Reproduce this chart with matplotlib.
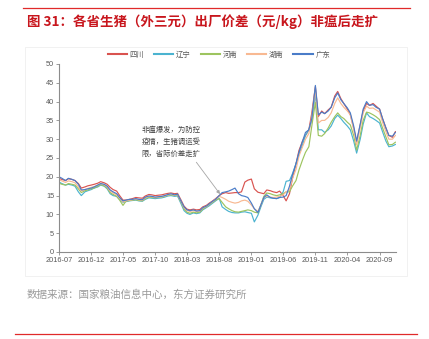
import matplotlib
matplotlib.use("Agg")
import matplotlib.pyplot as plt
import pandas as pd
from matplotlib.patches import Rectangle
from matplotlib.lines import Line2D

plt.rcParams['font.family'] = ['Noto Sans CJK SC', 'DejaVu Sans']

title = "图 31：各省生猪（外三元）出厂价差（元/kg）非瘟后走扩"
source = "数据来源：国家粮油信息中心，东方证券研究所"
note = "非瘟爆发，为防控\n疫情，生猪调运受\n限，省际价差走扩"

series_names = ["四川", "辽宁", "河南", "湖南", "广东"]
series_colors = ["#D9534F", "#4BB3D0", "#9DC45F", "#F8B992", "#4A7CC8"]

# semi-monthly observation dates, 2016-07-01 .. 2020-11-16
dates = pd.date_range("2016-07-01", "2020-11-16", freq="SMS")

sichuan = [
    19.6, 19.3, 19.0, 19.5, 19.3, 19.0, 18.2, 17.0, 17.3, 17.6, 17.8, 18.0, 18.3, 18.7, 18.4, 18.0, 17.2, 16.6, 16.2, 15.0,
    13.8, 13.8, 14.0, 14.2, 14.5, 14.4, 14.3, 14.9, 15.3, 15.2, 15.0, 15.1, 15.2, 15.4, 15.6, 15.7, 15.5, 15.6, 13.8, 12.2,
    11.4, 11.2, 11.4, 11.2, 11.3, 12.0, 12.4, 13.0, 13.6, 14.2, 15.0, 15.5, 15.8, 15.6, 15.7, 15.8, 15.8, 16.0, 18.6, 19.1,
    19.4, 16.8, 15.9, 15.7, 15.5, 16.5, 16.3, 16.0, 15.8, 16.2, 15.0, 13.6, 15.5, 19.5, 23.5, 27.0, 29.5, 31.0, 32.5, 37.0,
    44.0, 36.0, 37.5, 36.8, 37.8, 38.5, 41.5, 42.7, 40.8, 39.5, 38.0, 36.5, 33.0, 29.2, 33.8, 37.5, 39.5, 39.0, 39.5, 38.8,
    38.0, 35.5, 33.0, 31.0, 30.5, 32.0,
]
liaoning = [
    18.6, 18.2, 17.8, 18.0, 17.8, 17.5, 16.0, 15.0, 16.0, 16.3, 16.6, 17.0, 17.3, 17.8, 17.5, 16.8, 15.5, 15.0, 14.8, 14.0,
    13.2, 13.4, 13.6, 13.7, 13.8, 13.6, 13.5, 14.0, 14.4, 14.3, 14.2, 14.3, 14.4, 14.6, 14.9, 15.0, 14.8, 14.9, 12.8, 11.0,
    10.3, 10.0, 10.4, 10.2, 10.4, 11.2, 11.8, 12.3, 13.0, 13.6, 14.3, 12.0, 11.3, 10.8, 10.5, 10.4, 10.4, 10.6, 10.7, 10.5,
    10.3, 8.0, 9.8, 12.0, 14.0, 14.6, 14.4, 14.3, 14.2, 14.5, 16.0, 18.8, 19.0, 20.8, 23.5, 26.0, 28.5, 31.0, 32.5, 35.0,
    42.0, 32.5, 32.5, 31.8, 32.5, 33.5, 35.5, 36.4, 35.5, 34.5, 33.5, 32.5, 29.5, 26.3, 30.0, 34.0, 37.0, 36.0, 35.5, 35.0,
    34.3, 32.0, 29.5, 28.0, 28.2, 28.6,
]
henan = [
    18.3, 18.0, 17.8, 18.2, 18.0, 17.8, 16.8, 15.8, 16.3, 16.5, 16.8, 17.0, 17.5, 17.9, 17.6, 17.0, 15.8, 15.3, 14.8, 13.8,
    12.4, 13.5, 13.7, 13.8, 13.9, 13.7, 13.6, 14.2, 14.6, 14.5, 14.4, 14.5, 14.6, 14.8, 15.1, 15.2, 15.0, 15.1, 13.2, 11.4,
    10.6, 10.3, 10.6, 10.4, 10.6, 11.4, 12.0, 12.6, 13.2, 13.8, 14.2, 13.2, 12.0, 11.5, 11.0, 10.7, 10.6, 10.8, 11.0, 11.2,
    11.0, 10.6, 10.4, 12.5, 14.8, 15.7, 15.5, 15.2, 15.0, 15.2, 15.5, 16.0, 16.0, 17.5, 19.0, 21.8, 24.5, 26.5, 28.0, 33.5,
    39.8, 31.0, 30.8, 31.5, 33.0, 34.5, 36.0, 37.0, 36.0, 35.5, 34.5, 33.8, 31.0, 27.1, 31.0, 35.0, 37.2, 37.0, 36.5, 36.0,
    35.2, 33.0, 30.6, 28.5, 28.6, 29.2,
]
hunan = [
    19.2, 18.9, 18.5, 18.9, 18.7, 18.4, 17.3, 16.2, 16.6, 16.9, 17.2, 17.4, 17.8, 18.2, 17.9, 17.3, 16.2, 15.7, 15.2, 14.3,
    13.3, 13.6, 13.8, 13.9, 14.1, 13.9, 13.8, 14.4, 14.8, 14.7, 14.5, 14.6, 14.7, 14.9, 15.2, 15.4, 15.1, 15.3, 13.4, 11.8,
    11.0, 10.8, 11.0, 10.8, 10.9, 11.7, 12.1, 12.7, 13.4, 14.0, 14.8, 14.5, 14.0, 13.5, 13.2, 13.0, 13.2, 13.6, 13.8, 13.5,
    12.5, 11.5, 10.8, 12.5, 14.5, 14.8, 14.6, 14.5, 14.6, 14.8, 15.2, 16.0, 16.5, 19.5, 22.0, 25.5, 28.0, 30.0, 31.5, 36.0,
    43.0, 34.3, 35.0, 35.0, 35.8, 37.0, 39.5, 41.0, 39.5, 38.5, 37.5, 36.5, 32.5, 28.5, 33.0, 37.0, 38.8, 38.2, 38.3, 37.8,
    37.2, 34.5, 32.0, 30.0, 30.0, 31.0,
]
guangdong = [
    20.0, 19.6, 19.0, 19.6, 19.3, 19.0, 18.0, 16.5, 16.6, 16.8, 17.0, 17.3, 17.8, 18.2, 18.0, 17.5, 16.5, 16.0, 15.5, 14.5,
    13.6, 13.8, 14.0, 14.0, 14.2, 14.0, 13.9, 14.6, 14.9, 14.8, 14.6, 14.7, 14.8, 15.0, 15.3, 15.5, 15.2, 15.4, 13.5, 12.0,
    11.2, 11.0, 11.2, 10.9, 11.0, 11.8, 12.2, 12.8, 13.5, 14.0, 15.0, 15.8, 16.0, 16.2, 16.6, 17.0, 15.5, 15.0, 14.8, 14.5,
    13.0, 11.5, 10.5, 12.5, 14.5, 15.2, 14.5, 14.3, 14.2, 14.5, 14.6, 15.0, 17.5, 20.5, 23.5, 26.5, 29.5, 31.8, 32.5, 35.5,
    44.3, 36.5, 37.2, 36.8, 37.5, 38.5, 41.0, 42.3, 40.5, 39.5, 38.3, 37.0, 33.5, 29.5, 34.0, 38.0, 40.0, 39.0, 39.2, 38.5,
    38.0, 35.5, 33.0, 31.0, 30.8, 31.8,
]

y_ticks = [0, 5, 10, 15, 20, 25, 30, 35, 40, 45, 50]
x_tick_labels = ["2016-07", "2016-12", "2017-05", "2017-10", "2018-03", "2018-08",
                 "2019-01", "2019-06", "2019-11", "2020-04", "2020-09"]

W, H = 429, 339
fig = plt.figure(figsize=(W / 100, H / 100), dpi=100)
fig.patch.set_facecolor("white")

def fx(px):
    return px / W

def fy(py):
    return 1 - py / H

# decorative lines
fig.add_artist(Line2D([fx(23), fx(410)], [fy(7.5), fy(7.5)], color="#E02A2A", lw=0.9))
fig.add_artist(Line2D([fx(15), fx(417)], [fy(334), fy(334)], color="#E02A2A", lw=0.9))
# faint chart frame
fig.add_artist(Rectangle((fx(25), fy(276)), fx(407) - fx(25), fy(47) - fy(276),
                         fill=False, edgecolor="#EFEFEF", lw=0.6))

fig.text(fx(27), fy(22), title, color="#C8161D", fontsize=9.7, fontweight="bold",
         va="center", ha="left")
fig.text(fx(27), fy(295), source, color="#9A9A9A", fontsize=7.6, va="center", ha="left")

ax = fig.add_axes([fx(59), fy(252), fx(396) - fx(59), fy(64) - fy(252)])
all_series = [sichuan, liaoning, henan, hunan, guangdong]
for name, vals, col in zip(series_names, all_series, series_colors):
    ax.plot(dates, vals, color=col, lw=0.85, label=name)

ax.set_ylim(0, 50)
ax.set_yticks(y_ticks)
ax.set_yticklabels([str(v) for v in y_ticks])
ax.set_xlim(pd.Timestamp("2016-07-01"), pd.Timestamp("2020-11-18"))
tick_dates = [pd.Timestamp(s + "-01") for s in x_tick_labels]
ax.set_xticks(tick_dates)
ax.set_xticklabels(x_tick_labels)

for s in ["top", "right"]:
    ax.spines[s].set_visible(False)
for s in ["left", "bottom"]:
    ax.spines[s].set_color("#8C8C8C")
    ax.spines[s].set_linewidth(0.8)
ax.tick_params(axis="both", length=2, width=0.6, color="#8C8C8C", labelsize=5.3,
               labelcolor="#595959", pad=1.5)
for lbl in ax.get_xticklabels() + ax.get_yticklabels():
    lbl.set_family(["Liberation Sans", "DejaVu Sans"])

ax.annotate(note, xy=(pd.Timestamp("2018-08-05"), 15.4),
            xytext=(pd.Timestamp("2017-07-28"), 29.3),
            fontsize=5.3, color="#404040", ha="left", va="center", linespacing=1.75,
            arrowprops=dict(arrowstyle="-|>", color="#A6A6A6", lw=0.6,
                            shrinkA=1, shrinkB=0, mutation_scale=5,
                            relpos=(0.88, 0.0)))

handles = [Line2D([0], [0], color=c, lw=1.5) for c in series_colors]
leg = fig.legend(handles, series_names, loc="center", bbox_to_anchor=(fx(219), fy(55)),
                 ncol=5, frameon=False, fontsize=5.3, handlelength=2.6,
                 columnspacing=1.3, handletextpad=0.4, borderpad=0)
for t in leg.get_texts():
    t.set_color("#595959")

fig.savefig("out.png", dpi=100, facecolor="white")
